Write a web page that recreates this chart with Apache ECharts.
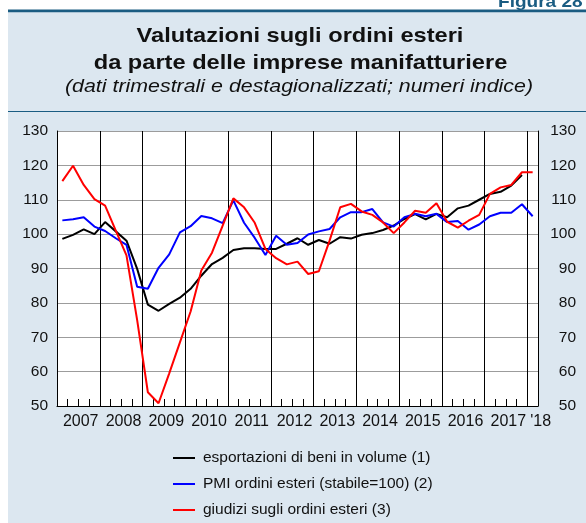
<!DOCTYPE html>
<html>
<head>
<meta charset="utf-8">
<script src="https://cdn.jsdelivr.net/npm/echarts@6/dist/echarts.min.js"></script>
<style>
  html, body { margin: 0; padding: 0; background: #fff; }
  #chart { width: 586px; height: 523px; }
</style>
</head>
<body>
<div id="chart"></div>
<script>
  // dati trimestrali 2007 T1 - 2018 T1
  const years = ['2007', '2008', '2009', '2010', '2011', '2012', '2013', '2014', '2015', '2016', '2017', '2018'];
  const yearLabels = ['2007', '2008', '2009', '2010', '2011', '2012', '2013', '2014', '2015', '2016', '2017', "'18"];
  const yTicks = [50, 60, 70, 80, 90, 100, 110, 120, 130];

  // esportazioni di beni in volume (1)
  const esportazioni = [
    98.6, 99.8, 101.4, 100.0,
    103.5, 100.8, 98.1, 89.9,
    79.5, 77.7, 79.7, 81.5,
    84.1, 87.9, 91.3, 93.1,
    95.4, 95.9, 95.9, 95.7,
    95.7, 97.2, 98.8, 96.9,
    98.3, 97.2, 99.1, 98.7,
    99.8, 100.3, 101.2, 102.5,
    104.4, 105.8, 104.3, 105.9,
    104.9, 107.5, 108.3, 110.0,
    111.7, 112.3, 114.1, 117.2,
    null
  ];
  // PMI ordini esteri (2)
  const pmi = [
    104.0, 104.3, 104.9, 102.2,
    100.9, 98.8, 96.9, 84.7,
    84.1, 90.2, 94.1, 100.5,
    102.3, 105.3, 104.6, 103.2,
    109.8, 103.3, 98.9, 93.9,
    99.5, 96.9, 97.4, 99.9,
    100.8, 101.5, 104.9, 106.4,
    106.4, 107.3, 103.4, 102.2,
    104.9, 105.9, 105.2, 105.9,
    103.5, 103.8, 101.3, 102.8,
    105.2, 106.2, 106.2, 108.7,
    105.2
  ];
  // giudizi sugli ordini esteri (3)
  const giudizi = [
    115.4, 119.9, 114.3, 110.2,
    108.3, 101.0, 93.8, 75.0,
    54.0, 50.8, 59.5, 68.5,
    77.5, 89.4, 94.6, 102.5,
    110.4, 107.8, 103.3, 95.7,
    93.0, 91.2, 92.0, 88.4,
    89.2, 98.1, 107.8, 108.8,
    106.6, 105.6, 103.4, 100.3,
    103.4, 106.8, 106.2, 109.0,
    103.6, 101.9, 103.9, 105.6,
    111.7, 113.6, 114.3, 118.0,
    118.0
  ];

  const categories = [];
  years.forEach(y => ['T1', 'T2', 'T3', 'T4'].forEach(q => categories.push(y + ' ' + q)));
  categories.length = esportazioni.length;

  const FONT = "'Liberation Sans', Arial, Helvetica, sans-serif";
  const PANEL = '#dce7f0';
  const DARK = '#1a5c82';

  const chart = echarts.init(document.getElementById('chart'));

  chart.setOption({
    animation: false,
    backgroundColor: '#fff',
    textStyle: { fontFamily: FONT },
    graphic: [
      { type: 'rect', z: -10, shape: { x: 8, y: 12, width: 578, height: 511 }, style: { fill: PANEL } },
      { type: 'rect', z: -9, shape: { x: 8, y: 9.5, width: 578, height: 2.7 }, style: { fill: DARK } },
      { type: 'rect', z: -9, shape: { x: 8, y: 111, width: 578, height: 1 }, style: { fill: DARK } },
      {
        type: 'text', x: 498, y: 2, scaleX: 1.12,
        style: { text: 'Figura 28', font: 'bold 17px ' + FONT, fill: DARK, textAlign: 'left', textVerticalAlign: 'middle', align: 'left', verticalAlign: 'middle' }
      },
      {
        type: 'text', x: 300, y: 36.5, scaleX: 1.125,
        style: { text: 'Valutazioni sugli ordini esteri', font: 'bold 21px ' + FONT, fill: '#111', textAlign: 'center', textVerticalAlign: 'middle', align: 'center', verticalAlign: 'middle' }
      },
      {
        type: 'text', x: 300.5, y: 63.5, scaleX: 1.125,
        style: { text: 'da parte delle imprese manifatturiere', font: 'bold 21px ' + FONT, fill: '#111', textAlign: 'center', textVerticalAlign: 'middle', align: 'center', verticalAlign: 'middle' }
      },
      {
        type: 'text', x: 299, y: 87, scaleX: 1.125,
        style: { text: '(dati trimestrali e destagionalizzati; numeri indice)', font: 'italic 19px ' + FONT, fill: '#111', textAlign: 'center', textVerticalAlign: 'middle', align: 'center', verticalAlign: 'middle' }
      }
    ],
    legend: {
      orient: 'vertical',
      left: 173,
      top: 449,
      height: 80,
      padding: 0,
      icon: 'rect',
      itemWidth: 22,
      itemHeight: 2,
      itemGap: 8,
      textStyle: { fontSize: 15.5, lineHeight: 18, color: '#111', fontFamily: FONT, padding: [0, 0, 0, 3] },
      data: ['esportazioni di beni in volume (1)', 'PMI ordini esteri (stabile=100) (2)', 'giudizi sugli ordini esteri (3)']
    },
    grid: {
      left: 57, right: 48, top: 131, bottom: 117,
      show: true, backgroundColor: '#fff', borderWidth: 0
    },
    xAxis: {
      type: 'category',
      data: categories,
      boundaryGap: true,
      axisLine: { onZero: false, lineStyle: { color: '#000', width: 1 } },
      axisTick: { show: true, inside: true, length: 7, interval: 0, lineStyle: { color: '#000' } },
      splitLine: {
        show: true,
        interval: (i) => i % 4 === 0 && i > 0,
        lineStyle: { color: '#000', width: 1 }
      },
      axisLabel: {
        interval: (i) => i % 4 === 2 || i === categories.length - 1,
        formatter: (v, i) => {
          const lab = yearLabels[Math.floor(i / 4)];
          return i === categories.length - 1 ? '{e|' + lab + '}' : lab;
        },
        rich: { e: { fontSize: 16, color: '#111', fontFamily: FONT, padding: [0, 0, 0, 22] } },
        padding: [0, 6, 0, 0],
        margin: 8,
        fontSize: 16,
        color: '#111',
        fontFamily: FONT
      }
    },
    yAxis: [
      {
        type: 'value', min: yTicks[0], max: yTicks[yTicks.length - 1], interval: 10,
        axisLine: { show: true, lineStyle: { color: '#000', width: 1 } },
        axisTick: { show: false },
        splitLine: { show: true, lineStyle: { color: '#9c9c9c', width: 1 } },
        axisLabel: { margin: 9, fontSize: 15.5, color: '#111', fontFamily: FONT }
      },
      {
        type: 'value', position: 'right', min: yTicks[0], max: yTicks[yTicks.length - 1], interval: 10,
        axisLine: { show: true, lineStyle: { color: '#000', width: 1 } },
        axisTick: { show: false },
        splitLine: { show: false },
        axisLabel: { margin: 38, align: 'right', fontSize: 15.5, color: '#111', fontFamily: FONT }
      }
    ],
    series: [
      {
        name: 'esportazioni di beni in volume (1)', type: 'line', data: esportazioni,
        symbol: 'none', color: '#000', lineStyle: { color: '#000', width: 2 }
      },
      {
        name: 'PMI ordini esteri (stabile=100) (2)', type: 'line', data: pmi,
        symbol: 'none', color: '#0000ff', lineStyle: { color: '#0000ff', width: 2 }
      },
      {
        name: 'giudizi sugli ordini esteri (3)', type: 'line', data: giudizi,
        symbol: 'none', color: '#ff0000', lineStyle: { color: '#ff0000', width: 2 }
      }
    ]
  });
</script>
</body>
</html>
